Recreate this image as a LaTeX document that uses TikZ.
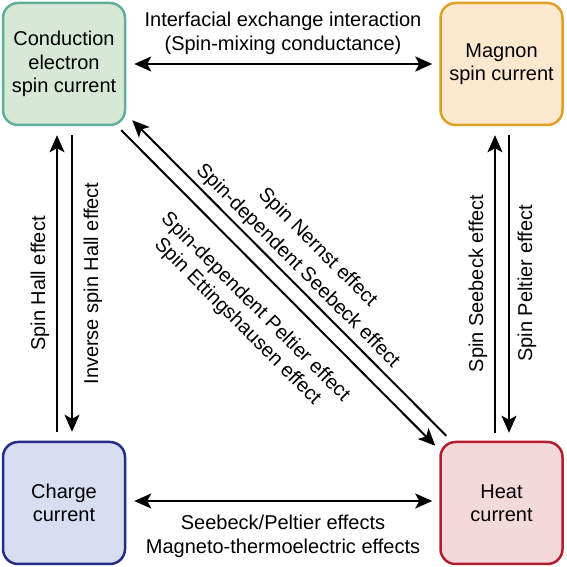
\documentclass[tikz,border=0pt]{standalone}
\usepackage{fontspec}
\setmainfont{Liberation Sans}
\usetikzlibrary{arrows.meta,calc}
\definecolor{gfill}{HTML}{D7E9D6}
\definecolor{gdraw}{HTML}{62AE9C}
\definecolor{ofill}{HTML}{FCE8CE}
\definecolor{odraw}{HTML}{DE9F22}
\definecolor{bfill}{HTML}{D8DEF1}
\definecolor{bdraw}{HTML}{232C88}
\definecolor{rfill}{HTML}{F4D9DA}
\definecolor{rdraw}{HTML}{B31C2C}
\begin{document}
\begin{tikzpicture}[x=1pt,y=1pt,
  box/.style={draw, line width=2.5pt, rounded corners=15pt, minimum width=122pt, minimum height=122pt,
    align=center, inner sep=0pt, font=\fontsize{20}{23.5}\selectfont},
  conn/.style={line width=2pt, -{Stealth[length=17pt,width=15pt,inset=4pt]}},
  dconn/.style={line width=2pt, {Stealth[length=17pt,width=15pt,inset=4pt]}-{Stealth[length=17pt,width=15pt,inset=4pt]}},
  plain/.style={line width=2pt},
  lab/.style={font=\fontsize{20}{24}\selectfont, inner sep=0pt, anchor=base}]
\useasboundingbox (0,0) rectangle (566,567);
\fill[white] (0,0) rectangle (566,567);
\node[box, fill=gfill, draw=gdraw] (tl) at (64,503) {Conduction\\electron\\spin current};
\node[box, fill=ofill, draw=odraw] (tr) at (501.5,503) {Magnon\\spin current};
\node[box, fill=bfill, draw=bdraw] (bl) at (64,64) {Charge\\current};
\node[box, fill=rfill, draw=rdraw] (br) at (501.5,64) {Heat\\current};
% horizontal
\draw[dconn, shorten <=8pt, shorten >=7pt] (tl.east) -- (tr.west);
\draw[dconn, shorten <=8pt, shorten >=7pt] ([yshift=2pt]bl.east) -- ([yshift=2pt]br.west);
% left verticals
\draw[conn, shorten <=9pt, shorten >=9pt] ([xshift=-7pt]bl.north) -- ([xshift=-7pt]tl.south);
\draw[conn, shorten <=9pt, shorten >=9pt] ([xshift=8pt]tl.south) -- ([xshift=8pt]bl.north);
% right verticals
\draw[conn, shorten <=8pt, shorten >=9pt] ([xshift=-6.5pt]br.north) -- ([xshift=-6.5pt]tr.south);
\draw[conn, shorten <=9pt, shorten >=8pt] ([xshift=7.5pt]tr.south) -- ([xshift=7.5pt]br.north);
% diagonals
\draw[conn] ([shift={(7,5)}]br.north west) -- ([shift={(6,6)}]tl.south east);
\draw[conn] ([shift={(-5,-4)}]tl.south east) -- ([shift={(-4,-5)}]br.north west);
% labels
\node[lab] (l1) at (283,540) {Interfacial exchange interaction};
\node[lab] (l2) at (283,516) {(Spin-mixing conductance)};
\node[lab] (l3) at (283,37.5) {Seebeck/Peltier effects};
\node[lab] (l4) at (283,13) {Magneto-thermoelectric effects};
\node[lab, rotate=90] (l5) at (45,283.5) {Spin Hall effect};
\node[lab, rotate=90] (l6) at (98,283.5) {Inverse spin Hall effect};
\node[lab, rotate=90] (l7) at (483,283.5) {Spin Seebeck effect};
\node[lab, rotate=90] (l8) at (532,283.5) {Spin Peltier effect};
\node[lab, rotate=-45, anchor=base west] (l9) at (257.4,371.8) {Spin Nernst effect};
\node[lab, rotate=-45, anchor=base west] (l10) at (195.2,395.9) {Spin-dependent Seebeck effect};
\node[lab, rotate=-45, anchor=base west] (l11) at (160.3,347.3) {Spin-dependent Peltier effect};
\node[lab, rotate=-45, anchor=base west] (l12) at (153.4,321.6) {Spin Ettingshausen effect};
\end{tikzpicture}
\end{document}
